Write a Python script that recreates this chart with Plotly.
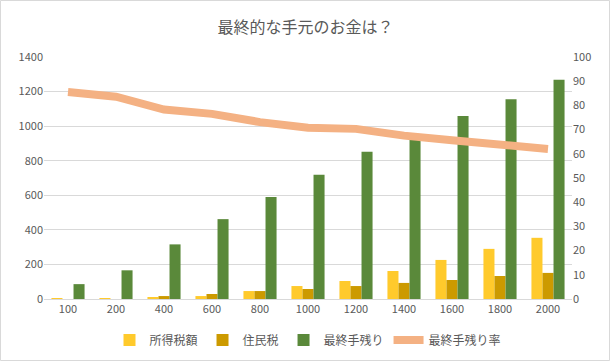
import plotly.graph_objects as go

categories = ["100", "200", "400", "600", "800", "1000", "1200", "1400", "1600", "1800", "2000"]
income_tax = [5, 5, 7, 17, 46, 75, 104, 162, 226, 290, 354]
resident_tax = [0, 0, 17, 29, 46, 58, 75, 93, 110, 133, 151]
take_home = [86, 166, 316, 462, 590, 719, 852, 930, 1058, 1156, 1268]
take_home_rate = [85.5, 83.6, 78.3, 76.5, 73.1, 70.8, 70.3, 67.5, 65.6, 63.6, 62.0]

font_family = "Noto Sans CJK JP, Noto Sans, sans-serif"
grey = "#595959"

fig = go.Figure()
fig.add_trace(go.Bar(name="所得税額", x=categories, y=income_tax, marker_color="#FFCA2C", marker_line_width=0))
fig.add_trace(go.Bar(name="住民税", x=categories, y=resident_tax, marker_color="#CC9A00", marker_line_width=0))
fig.add_trace(go.Bar(name="最終手残り", x=categories, y=take_home, marker_color="#5A893A", marker_line_width=0))
fig.add_trace(go.Scatter(name="最終手残り率", x=categories, y=take_home_rate, yaxis="y2",
                         mode="lines", line=dict(color="#F4B183", width=8)))

W, H = 611, 362
l, r, t, b = 44, 39, 57, 63
pw, ph = W - l - r, H - t - b

fig.update_layout(
    width=W, height=H,
    margin=dict(l=l, r=r, t=t, b=b, autoexpand=False),
    paper_bgcolor="white", plot_bgcolor="white",
    font=dict(family=font_family, color=grey, size=11),
    title=dict(text="最終的な手元のお金は？", x=0.5, xanchor="center", y=1 - 27 / H, yanchor="middle",
               font=dict(size=16, color=grey, family=font_family)),
    barmode="group", bargap=0.31, bargroupgap=0,
    xaxis=dict(type="category", showgrid=False, showline=True, linecolor="#D9D9D9", linewidth=1,
               ticks="", tickfont=dict(size=11, color=grey), automargin=False),
    yaxis=dict(range=[0, 1400], dtick=200, showgrid=True, gridcolor="#D9D9D9", gridwidth=1,
               zeroline=False, ticks="", tickfont=dict(size=11, color=grey), automargin=False),
    yaxis2=dict(range=[0, 100], dtick=10, overlaying="y", side="right", showgrid=False,
                zeroline=False, ticks="", tickfont=dict(size=11, color=grey), automargin=False),
    legend=dict(orientation="h", x=0.5, xanchor="center", y=-(340 - 299) / ph, yanchor="middle",
                font=dict(size=12, color=grey, family=font_family), itemwidth=30,
                traceorder="normal"),
    showlegend=True,
    shapes=[dict(type="rect", xref="paper", yref="paper",
                 x0=-(l - 0.5) / pw, x1=1 + (r - 1.5) / pw,
                 y0=-(b - 1.5) / ph, y1=1 + (t - 0.5) / ph,
                 line=dict(color="#D9D9D9", width=1), fillcolor="rgba(0,0,0,0)", layer="below")],
)

fig.write_html("out.html", config={"displayModeBar": False},
               post_script="document.body.style.margin='0';document.body.style.overflow='hidden';")
